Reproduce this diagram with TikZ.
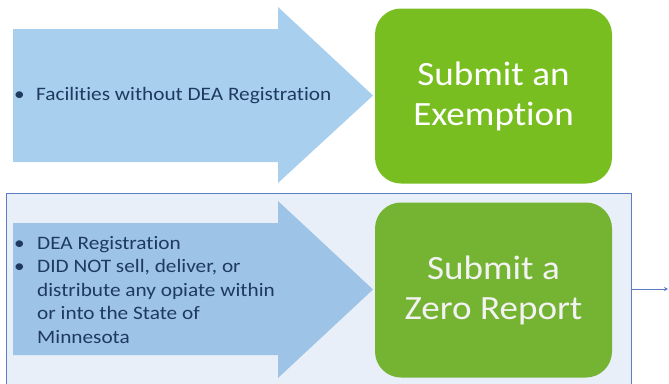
\documentclass[tikz,border=0pt]{standalone}
\usepackage{fontspec}
\setmainfont{Carlito}[FakeStretch=1.12, Ligatures={NoCommon}]
\newfontfamily\bigfont{Carlito}[FakeStretch=1.09, Ligatures={NoCommon}]
\usetikzlibrary{arrows.meta}
\definecolor{arrowA}{HTML}{A9CFEE}
\definecolor{arrowB}{HTML}{9DC3E6}
\definecolor{frameFill}{HTML}{E9EFF8}
\definecolor{frameLine}{HTML}{5B7FC0}
\definecolor{greenA}{HTML}{78BE21}
\definecolor{greenB}{HTML}{74B432}
\definecolor{darkText}{HTML}{1F3A60}
\tikzset{
  greenbox/.style={rounded corners=26pt, minimum width=237pt, minimum height=175pt, inner sep=0pt,
    align=center, font=\bigfont\fontsize{34}{40}\selectfont},
  arrowtext/.style={inner sep=0pt, text=darkText, font=\fontsize{19}{24}\selectfont},
  framebox/.style={draw=frameLine, fill=frameFill, line width=1pt, minimum width=625pt, minimum height=192pt, inner sep=0pt},
}
\begin{document}
\begin{tikzpicture}[x=1pt,y=-1pt]
\useasboundingbox (0,0) rectangle (669,383);
\clip (0,0) rectangle (669,383);
% frame
\node[framebox] (frame) at (318.5,289) {};
% top arrow
\fill[arrowA] (13,29) -- (278,29) -- (278,7) -- (373,95.5) -- (278,183) -- (278,162) -- (13,162) -- cycle;
% bottom arrow
\fill[arrowB] (13,223) -- (278,223) -- (278,201) -- (373,289.5) -- (278,378) -- (278,355) -- (13,355) -- cycle;
% green boxes
\node[greenbox, fill=greenA, text=white] (exempt) at (493.5,96) {Submit an\\Exemption};
\node[greenbox, fill=greenB, text=white!95!black] (zero) at (493.5,290) {Submit a\\Zero Report};
% arrow texts
\node[arrowtext, anchor=base west] (t1) at (14,100) {\makebox[22pt][l]{\textbullet}Facilities without DEA Registration};
\node[arrowtext, anchor=base west] (t2) at (14,249) {\parbox[t]{330pt}{\fontsize{19}{23.6}\selectfont
\makebox[23pt][l]{\textbullet}DEA Registration\\
\makebox[23pt][l]{\textbullet}DID NOT sell, deliver, or\\
\hspace*{23pt}distribute any opiate within\\
\hspace*{23pt}or into the State of\\
\hspace*{23pt}Minnesota}};
% connector
\coordinate (out) at (668,289);
\draw[frameLine, line width=0.9pt, -{Stealth[length=4pt,width=4pt]}] (frame.east) -- (out);
\end{tikzpicture}
\end{document}
